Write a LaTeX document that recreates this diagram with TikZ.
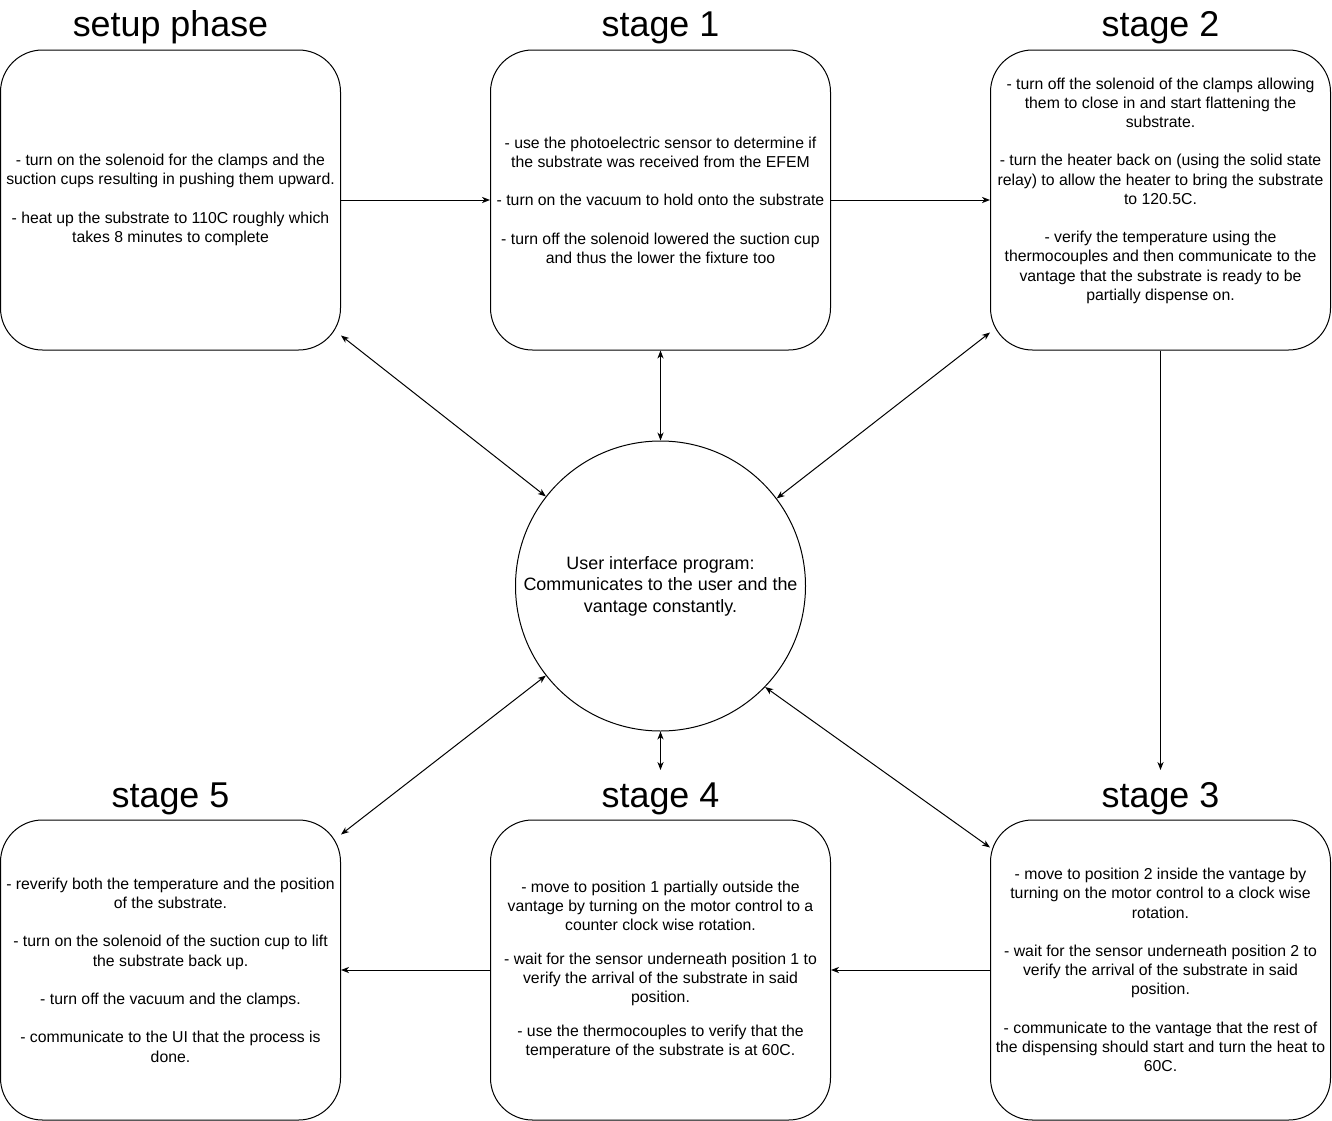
\documentclass[tikz,border=0pt]{standalone}
\usepackage{fontspec}
\setmainfont{Liberation Sans}
\usetikzlibrary{arrows.meta,calc}
\tikzset{
  stagebox/.style={draw=black, line width=0.75pt, rounded corners=31.5pt,
    minimum width=255pt, minimum height=225pt, inner sep=0pt, align=center,
    font={\fontsize{11.85pt}{14.4pt}\selectfont}},
  uicircle/.style={draw=black, line width=0.75pt, circle, minimum size=217.5pt,
    inner sep=0pt, align=center, font={\fontsize{13.44pt}{16.1pt}\selectfont}},
  stagetitle/.style={anchor=base, inner sep=0pt, font={\fontsize{26.9pt}{32pt}\selectfont}},
  flow/.style={line width=0.75pt, -{Stealth[length=6pt,width=4.6pt,inset=1.8pt]}},
  dflow/.style={line width=0.75pt, {Stealth[length=6pt,width=4.6pt,inset=1.8pt]}-{Stealth[length=6pt,width=4.6pt,inset=1.8pt]}}
}
\begin{document}
\begin{tikzpicture}[x=0.75pt,y=-0.75pt]
\useasboundingbox (0,0) rectangle (1332,1121);
% titles
\node[stagetitle] (t0) at (170.5,36) {setup phase};
\node[stagetitle] (t1) at (660.5,36) {stage 1};
\node[stagetitle] (t2) at (1160.5,36) {stage 2};
\node[stagetitle] (t5) at (170.5,807) {stage 5};
\node[stagetitle] (t4) at (660.5,807) {stage 4};
\node[stagetitle] (t3) at (1160.5,807) {stage 3};
% boxes
\node[stagebox] (s0) at (170.5,200) {- turn on the solenoid for the clamps and the\\suction cups resulting in pushing them upward.\\[14.4pt]- heat up the substrate to 110C roughly which\\takes 8 minutes to complete};
\node[stagebox] (s1) at (660.5,200) {- use the photoelectric sensor to determine if\\the substrate was received from the EFEM\\[14.4pt]- turn on the vacuum to hold onto the substrate\\[14.4pt]- turn off the solenoid lowered the suction cup\\and thus the lower the fixture too};
\node[stagebox] (s2) at (1160.5,200) {- turn off the solenoid of the clamps allowing\\them to close in and start flattening the\\substrate.\\[14.4pt]- turn the heater back on (using the solid state\\relay) to allow the heater to bring the substrate\\to 120.5C.\\[14.4pt]- verify the temperature using the\\thermocouples and then communicate to the\\vantage that the substrate is ready to be\\partially dispense on.\\[2pt]~};
\node[stagebox] (s5) at (170.5,970) {- reverify both the temperature and the position\\of the substrate.\\[14.4pt]- turn on the solenoid of the suction cup to lift\\the substrate back up.\\[14.4pt]- turn off the vacuum and the clamps.\\[14.4pt]- communicate to the UI that the process is\\done.};
\node[stagebox] (s4) at (660.5,970) {- move to position 1 partially outside the\\vantage by turning on the motor control to a\\counter clock wise rotation.\\[11pt]- wait for the sensor underneath position 1 to\\verify the arrival of the substrate in said\\position.\\[11pt]- use the thermocouples to verify that the\\temperature of the substrate is at 60C.};
\node[stagebox] (s3) at (1160.5,970) {- move to position 2 inside the vantage by\\turning on the motor control to a clock wise\\rotation.\\[14.4pt]- wait for the sensor underneath position 2 to\\verify the arrival of the substrate in said\\position.\\[14.4pt]- communicate to the vantage that the rest of\\the dispensing should start and turn the heat to\\60C.};
% centre
\node[uicircle] (ui) at (660.5,586) {User interface program:\\Communicates to the user and the\\vantage constantly.};
% free ends
\coordinate (a3) at (1160.5,770);
\coordinate (a4) at (660.5,770);
% connectors
\draw[flow] (s0.east) -- (s1.west);
\draw[flow] (s1.east) -- (s2.west);
\draw[flow] (s2.south) -- (a3);
\draw[flow] (s3.west) -- (s4.east);
\draw[flow] (s4.west) -- (s5.east);
\draw[dflow] (s1.south) -- (ui.north);
\draw[dflow] (ui.south) -- (a4);
\draw[dflow] ($(s0.south east)+(0,-15)$) -- (ui.142.4);
\draw[dflow] ($(s2.south west)+(0,-18)$) -- (ui.37.2);
\draw[dflow] ($(s5.north east)+(0,15)$) -- (ui.218.3);
\draw[dflow] ($(s3.north west)+(0,28)$) -- (ui.-44.7);
\end{tikzpicture}
\end{document}
